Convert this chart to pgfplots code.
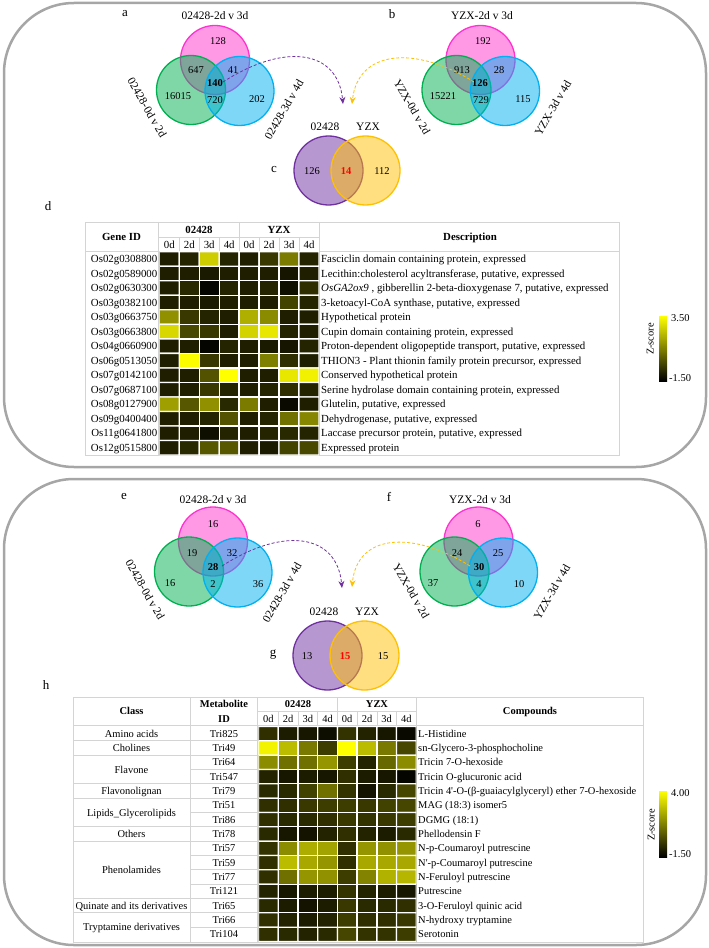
\documentclass[border=0pt]{standalone}
\usepackage{fontspec}
\setmainfont{Liberation Serif}
\usepackage{pgfplots}
\pgfplotsset{compat=1.18}
\usetikzlibrary{arrows.meta}

\definecolor{vpink}{RGB}{255,51,204}
\definecolor{vgreen}{RGB}{0,176,80}
\definecolor{vblue}{RGB}{0,176,240}
\definecolor{vpurple}{RGB}{112,48,160}
\definecolor{vyellow}{RGB}{255,192,0}
\definecolor{boxgray}{RGB}{166,166,166}
\definecolor{tline}{RGB}{212,212,212}
\definecolor{cbgreen}{RGB}{0,170,0}

\pgfplotsset{
  colormap={zmap}{rgb255=(0,0,0) rgb255=(255,255,0)},
  heat/.style={scale only axis, hide axis, anchor=north west,
    xmin=-0.5, xmax=7.5, y dir=reverse, enlargelimits=false,
    colormap name=zmap},
}
\tikzset{
  t/.style={inner sep=0pt, text height=7bp, text depth=0bp, font=\fontsize{10.5}{12}\selectfont},
  tb/.style={t, font=\fontsize{10.5}{12}\selectfont\bfseries},
  d/.style={inner sep=0pt, text height=7bp, text depth=0bp, font=\fontsize{10.9}{12}\selectfont},
  db/.style={d, font=\fontsize{10.9}{12}\selectfont\bfseries},
  ttl/.style={inner sep=0pt, text height=7.5bp, text depth=0bp, font=\fontsize{11.5}{13}\selectfont},
  lab/.style={inner sep=0pt, font=\fontsize{13}{15}\selectfont},
  arr/.style={densely dashed, line width=0.8bp, -{Stealth[length=7bp,width=6bp]}},
}

% three-set venn, #1,#2 = centre of the top (pink) circle
\newcommand\vennthree[2]{%
  \fill[vpink,opacity=0.5] (#1,#2) circle[radius=34.5bp];
  \draw[vpink,line width=1.3bp] (#1,#2) circle[radius=34.5bp];
  \fill[vgreen,opacity=0.5] ({#1-24},{#2+30}) circle[radius=34.5bp];
  \draw[vgreen,line width=1.3bp] ({#1-24},{#2+30}) circle[radius=34.5bp];
  \fill[vblue,opacity=0.5] ({#1+24.5},{#2+31}) circle[radius=34.5bp];
  \draw[vblue,line width=1.3bp] ({#1+24.5},{#2+31}) circle[radius=34.5bp];
}
% two-set venn, #1,#2 = centre of the left (purple) circle
\newcommand\venntwo[2]{%
  \fill[vpurple,opacity=0.5] (#1,#2) circle[radius=34.5bp];
  \draw[vpurple,line width=1.3bp] (#1,#2) circle[radius=34.5bp];
  \fill[vyellow,opacity=0.5] ({#1+37},#2) circle[radius=34.5bp];
  \draw[vyellow,line width=1.3bp] ({#1+37},#2) circle[radius=34.5bp];
}

\begin{document}
\begin{tikzpicture}
\begin{axis}[name=main, at={(0,0)}, anchor=south west,
  width=709bp, height=948bp, scale only axis,
  xmin=0, xmax=709, ymin=0, ymax=948, y dir=reverse,
  enlargelimits=false, hide axis, clip=false]

% panel frames
\draw[boxgray, line width=2.5bp, rounded corners=70bp] (4,3) rectangle (706,467);
\draw[boxgray, line width=2.5bp, rounded corners=70bp] (4,479) rectangle (706,945);

% ---------- a, b, c ----------
\vennthree{215}{60}
\vennthree{480.5}{60}
\venntwo{328.5}{170.5}

\node[lab] at (125,14) {a};
\node[lab] at (392,14) {b};
\node[lab] at (274,170) {c};
\node[ttl] at (215,16) {02428-2d v 3d};
\node[ttl] at (482,16) {YZX-2d v 3d};
\node[ttl, rotate=-60] at (147,108) {02428-0d v 2d};
\node[ttl, rotate=60] at (284,110) {02428-3d v 4d};
\node[ttl, rotate=-60] at (412,107) {YZX-0d v 2d};
\node[ttl, rotate=60] at (553,108) {YZX-3d v 4d};

\node[t] at (218,41) {128};
\node[t] at (196,70) {647};
\node[t] at (233,70) {41};
\node[tb] at (215,83) {140};
\node[t] at (178,96) {16015};
\node[t] at (215,100) {720};
\node[t] at (257,99) {202};

\node[t] at (483,41) {192};
\node[t] at (462,70) {913};
\node[t] at (499,70) {28};
\node[tb] at (480,83) {126};
\node[t] at (443,96) {15221};
\node[t] at (481,100) {729};
\node[t] at (523,99) {115};

\node[ttl] at (325,127) {02428};
\node[ttl] at (368,127) {YZX};
\node[t] at (312,171) {126};
\node[tb, text=red] at (346,171) {14};
\node[t] at (382,171) {112};

\draw[arr, vpurple] (223,82) .. controls (285,42) and (338,50) .. (343,104);
\draw[arr, vyellow] (474,82) .. controls (415,45) and (358,50) .. (352,104);

% ---------- d : table ----------
\node[lab] at (48,206) {d};
\draw[tline, line width=0.8bp] (85,222) rectangle (619,455.5);
\draw[tline, line width=0.8bp] (85,251.5) -- (619,251.5);
\draw[tline, line width=0.8bp] (158.8,222) -- (158.8,455.5);
\draw[tline, line width=0.8bp] (319.3,222) -- (319.3,455.5);
\draw[tline, line width=0.8bp] (158.8,237) -- (319.3,237);
\draw[tline, line width=0.8bp] (239.1,222) -- (239.1,251.5);
\draw[tline, line width=0.6bp] (179.3,237) -- (179.3,251.5) (199.2,237) -- (199.2,251.5)
  (219.2,237) -- (219.2,251.5) (259.1,237) -- (259.1,251.5)
  (279.1,237) -- (279.1,251.5) (299.0,237) -- (299.0,251.5);

\node[db] at (121.5,237) {Gene ID};
\node[db] at (199,229.5) {02428};
\node[db] at (279,229.5) {YZX};
\node[db] at (470,237) {Description};
\node[d] at (169.3,244.5) {0d};
\node[d] at (189.3,244.5) {2d};
\node[d] at (209.2,244.5) {3d};
\node[d] at (229.2,244.5) {4d};
\node[d] at (249.1,244.5) {0d};
\node[d] at (269.1,244.5) {2d};
\node[d] at (289.0,244.5) {3d};
\node[d] at (309.0,244.5) {4d};

\node[d, anchor=east] at (157.5,259.0) {Os02g0308800};
\node[d, anchor=east] at (157.5,273.5) {Os02g0589000};
\node[d, anchor=east] at (157.5,288.0) {Os02g0630300};
\node[d, anchor=east] at (157.5,302.6) {Os03g0382100};
\node[d, anchor=east] at (157.5,317.1) {Os03g0663750};
\node[d, anchor=east] at (157.5,331.6) {Os03g0663800};
\node[d, anchor=east] at (157.5,346.1) {Os04g0660900};
\node[d, anchor=east] at (157.5,360.7) {Os06g0513050};
\node[d, anchor=east] at (157.5,375.2) {Os07g0142100};
\node[d, anchor=east] at (157.5,389.7) {Os07g0687100};
\node[d, anchor=east] at (157.5,404.3) {Os08g0127900};
\node[d, anchor=east] at (157.5,418.8) {Os09g0400400};
\node[d, anchor=east] at (157.5,433.3) {Os11g0641800};
\node[d, anchor=east] at (157.5,447.9) {Os12g0515800};

\node[d, anchor=west] at (321,259.0) {Fasciclin domain containing protein, expressed};
\node[d, anchor=west] at (321,273.5) {Lecithin:cholesterol acyltransferase, putative, expressed};
\node[d, anchor=west] at (321,288.0) {\textit{OsGA2ox9} , gibberellin 2-beta-dioxygenase 7, putative, expressed};
\node[d, anchor=west] at (321,302.6) {3-ketoacyl-CoA synthase, putative, expressed};
\node[d, anchor=west] at (321,317.1) {Hypothetical protein};
\node[d, anchor=west] at (321,331.6) {Cupin domain containing protein, expressed};
\node[d, anchor=west] at (321,346.1) {Proton-dependent oligopeptide transport, putative, expressed};
\node[d, anchor=west] at (321,360.7) {THION3 - Plant thionin family protein precursor, expressed};
\node[d, anchor=west] at (321,375.2) {Conserved hypothetical protein};
\node[d, anchor=west] at (321,389.7) {Serine hydrolase domain containing protein, expressed};
\node[d, anchor=west] at (321,404.3) {Glutelin, putative, expressed};
\node[d, anchor=west] at (321,418.8) {Dehydrogenase, putative, expressed};
\node[d, anchor=west] at (321,433.3) {Laccase precursor protein, putative, expressed};
\node[d, anchor=west] at (321,447.9) {Expressed protein};

\shade[top color=yellow, middle color=cbgreen, bottom color=black] (659,316) rectangle (667,381);
\node[t, anchor=west] at (671,318) {3.50};
\node[t, anchor=west] at (669,378) {-1.50};
\node[t, rotate=90] at (650,339) {Z-score};

% ---------- e, f, g ----------
\vennthree{213}{541.5}
\vennthree{478.5}{541.5}
\venntwo{327.5}{655.5}

\node[lab] at (124,497) {e};
\node[lab] at (389,497) {f};
\node[lab] at (273,655) {g};
\node[ttl] at (213,500) {02428-2d v 3d};
\node[ttl] at (480,500) {YZX-2d v 3d};
\node[ttl, rotate=-60] at (145,590) {02428-0d v 2d};
\node[ttl, rotate=60] at (282,593) {02428-3d v 4d};
\node[ttl, rotate=-60] at (411,591) {YZX-0d v 2d};
\node[ttl, rotate=60] at (552,592) {YZX-3d v 4d};

\node[t] at (213,524) {16};
\node[t] at (192,553) {19};
\node[t] at (232,553) {32};
\node[tb] at (213,567) {28};
\node[t] at (170,583) {16};
\node[t] at (213,584) {2};
\node[t] at (258,584) {36};

\node[t] at (478,524) {6};
\node[t] at (457,553) {24};
\node[t] at (498,553) {25};
\node[tb] at (479,567) {30};
\node[t] at (433,583) {37};
\node[t] at (479,584) {4};
\node[t] at (519,584) {10};

\node[ttl] at (324,612) {02428};
\node[ttl] at (367,612) {YZX};
\node[t] at (307,656) {13};
\node[tb, text=red] at (345,656) {15};
\node[t] at (383,656) {15};

\draw[arr, vpurple] (222,566) .. controls (284,526) and (337,534) .. (342,588);
\draw[arr, vyellow] (470,566) .. controls (412,530) and (357,534) .. (352,587);

% ---------- h : table ----------
\node[lab] at (46,685) {h};
\draw[tline, line width=0.8bp] (73,697) rectangle (643,942);
\draw[tline, line width=0.8bp] (73,725.5) -- (643,725.5);
\draw[tline, line width=0.8bp] (190,697) -- (190,942);
\draw[tline, line width=0.8bp] (257.8,697) -- (257.8,942);
\draw[tline, line width=0.8bp] (416.3,697) -- (416.3,942);
\draw[tline, line width=0.8bp] (257.8,711.5) -- (416.3,711.5);
\draw[tline, line width=0.8bp] (337.4,697) -- (337.4,725.5);
\draw[tline, line width=0.6bp] (278.2,711.5) -- (278.2,725.5) (297.9,711.5) -- (297.9,725.5)
  (317.7,711.5) -- (317.7,725.5) (357.1,711.5) -- (357.1,725.5)
  (376.8,711.5) -- (376.8,725.5) (396.6,711.5) -- (396.6,725.5);
% row rules in the ID column
\draw[tline, line width=0.8bp]
  (190,740.8) -- (257.8,740.8) (190,755.2) -- (257.8,755.2) (190,769.5) -- (257.8,769.5)
  (190,783.8) -- (257.8,783.8) (190,798.2) -- (257.8,798.2) (190,812.5) -- (257.8,812.5)
  (190,826.8) -- (257.8,826.8) (190,841.1) -- (257.8,841.1) (190,855.5) -- (257.8,855.5)
  (190,869.8) -- (257.8,869.8) (190,884.1) -- (257.8,884.1) (190,898.5) -- (257.8,898.5)
  (190,912.8) -- (257.8,912.8) (190,927.1) -- (257.8,927.1);
% group rules in the class column
\draw[tline, line width=0.8bp]
  (73,740.8) -- (190,740.8) (73,755.2) -- (190,755.2) (73,783.8) -- (190,783.8)
  (73,798.2) -- (190,798.2) (73,826.8) -- (190,826.8) (73,841.1) -- (190,841.1)
  (73,898.5) -- (190,898.5) (73,912.8) -- (190,912.8);

\node[tb] at (131.5,711) {Class};
\node[tb] at (224,704) {Metabolite};
\node[tb] at (224,718.5) {ID};
\node[tb] at (298,704) {02428};
\node[tb] at (377,704) {YZX};
\node[tb] at (530,711) {Compounds};
\node[t] at (268.4,718.5) {0d};
\node[t] at (288.1,718.5) {2d};
\node[t] at (307.8,718.5) {3d};
\node[t] at (327.5,718.5) {4d};
\node[t] at (347.2,718.5) {0d};
\node[t] at (367.0,718.5) {2d};
\node[t] at (386.7,718.5) {3d};
\node[t] at (406.4,718.5) {4d};

\node[t] at (131.5,733.7) {Amino acids};
\node[t] at (131.5,748.0) {Cholines};
\node[t] at (131.5,769.5) {Flavone};
\node[t] at (131.5,791.0) {Flavonolignan};
\node[t] at (131.5,812.5) {Lipids\_Glycerolipids};
\node[t] at (131.5,834.0) {Others};
\node[t] at (131.5,869.8) {Phenolamides};
\node[t] at (131.5,905.7) {Quinate and its derivatives};
\node[t] at (131.5,927.2) {Tryptamine derivatives};

\node[t] at (224,733.7) {Tri825};
\node[t] at (224,748.0) {Tri49};
\node[t] at (224,762.3) {Tri64};
\node[t] at (224,776.7) {Tri547};
\node[t] at (224,791.0) {Tri79};
\node[t] at (224,805.3) {Tri51};
\node[t] at (224,819.7) {Tri86};
\node[t] at (224,834.0) {Tri78};
\node[t] at (224,848.3) {Tri57};
\node[t] at (224,862.7) {Tri59};
\node[t] at (224,877.0) {Tri77};
\node[t] at (224,891.3) {Tri121};
\node[t] at (224,905.7) {Tri65};
\node[t] at (224,920.0) {Tri66};
\node[t] at (224,934.3) {Tri104};

\node[t, anchor=west] at (418,733.7) {L-Histidine};
\node[t, anchor=west] at (418,748.0) {sn-Glycero-3-phosphocholine};
\node[t, anchor=west] at (418,762.3) {Tricin 7-O-hexoside};
\node[t, anchor=west] at (418,776.7) {Tricin O-glucuronic acid};
\node[t, anchor=west] at (418,791.0) {Tricin 4\textquotesingle-O-(β-guaiacylglyceryl) ether 7-O-hexoside};
\node[t, anchor=west] at (418,805.3) {MAG (18:3) isomer5};
\node[t, anchor=west] at (418,819.7) {DGMG (18:1)};
\node[t, anchor=west] at (418,834.0) {Phellodensin F};
\node[t, anchor=west] at (418,848.3) {N-p-Coumaroyl putrescine};
\node[t, anchor=west] at (418,862.7) {N\textquotesingle-p-Coumaroyl putrescine};
\node[t, anchor=west] at (418,877.0) {N-Feruloyl putrescine};
\node[t, anchor=west] at (418,891.3) {Putrescine};
\node[t, anchor=west] at (418,905.7) {3-O-Feruloyl quinic acid};
\node[t, anchor=west] at (418,920.0) {N-hydroxy tryptamine};
\node[t, anchor=west] at (418,934.3) {Serotonin};

\shade[top color=yellow, middle color=cbgreen, bottom color=black] (659,791) rectangle (667,857);
\node[t, anchor=west] at (671,793) {4.00};
\node[t, anchor=west] at (669,854) {-1.50};
\node[t, rotate=90] at (651,825) {Z-score};
\end{axis}

% heatmap d: transcripts, z-score
\begin{axis}[heat, at={(159.3bp,696.3bp)}, width=159.7bp, height=203.4bp,
  ymin=-0.5, ymax=13.5, point meta min=-1.5, point meta max=3.5]
\addplot[matrix plot*, draw=white, line width=1.3bp, mesh/cols=8, point meta=explicit]
  table[meta=z, row sep=\\]{
x y z\\
0 0 -0.9\\ 1 0 -0.8\\ 2 0 2.5\\ 3 0 -0.8\\ 4 0 -0.9\\ 5 0 -0.4\\ 6 0 0.9\\ 7 0 -0.8\\
0 1 -0.9\\ 1 1 -0.9\\ 2 1 -1.0\\ 3 1 -0.9\\ 4 1 -0.9\\ 5 1 -0.9\\ 6 1 -1.1\\ 7 1 -0.9\\
0 2 -0.9\\ 1 2 -0.7\\ 2 2 -1.4\\ 3 2 -0.8\\ 4 2 -0.9\\ 5 2 -0.8\\ 6 2 -1.2\\ 7 2 -0.6\\
0 3 -0.9\\ 1 3 -0.9\\ 2 3 -1.0\\ 3 3 -0.9\\ 4 3 -0.9\\ 5 3 -0.9\\ 6 3 -0.2\\ 7 3 -0.8\\
0 4 1.3\\ 1 4 -0.4\\ 2 4 -0.8\\ 3 4 -0.9\\ 4 4 1.9\\ 5 4 1.2\\ 6 4 -0.9\\ 7 4 -0.9\\
0 5 2.7\\ 1 5 -0.1\\ 2 5 -0.4\\ 3 5 -0.9\\ 4 5 2.6\\ 5 5 3.0\\ 6 5 -0.8\\ 7 5 -0.9\\
0 6 -0.9\\ 1 6 -0.9\\ 2 6 -1.4\\ 3 6 -0.8\\ 4 6 -0.9\\ 5 6 -1.0\\ 6 6 -1.1\\ 7 6 -0.8\\
0 7 -0.9\\ 1 7 3.4\\ 2 7 -0.4\\ 3 7 -0.9\\ 4 7 -0.9\\ 5 7 1.0\\ 6 7 -0.6\\ 7 7 -0.9\\
0 8 -0.9\\ 1 8 -0.9\\ 2 8 0.1\\ 3 8 3.5\\ 4 8 -0.9\\ 5 8 -0.9\\ 6 8 3.0\\ 7 8 3.2\\
0 9 -0.9\\ 1 9 -0.9\\ 2 9 -0.4\\ 3 9 -0.8\\ 4 9 -0.9\\ 5 9 -0.8\\ 6 9 -0.6\\ 7 9 -0.8\\
0 10 1.6\\ 1 10 0.2\\ 2 10 1.3\\ 3 10 -0.7\\ 4 10 0.9\\ 5 10 -0.9\\ 6 10 -1.3\\ 7 10 -0.9\\
0 11 -0.9\\ 1 11 -0.9\\ 2 11 -0.8\\ 3 11 0.1\\ 4 11 -0.9\\ 5 11 -0.8\\ 6 11 0.7\\ 7 11 1.1\\
0 12 -0.9\\ 1 12 -0.9\\ 2 12 -1.2\\ 3 12 -0.8\\ 4 12 -0.9\\ 5 12 -0.8\\ 6 12 -0.7\\ 7 12 -0.8\\
0 13 -0.9\\ 1 13 -0.7\\ 2 13 0.2\\ 3 13 0.2\\ 4 13 -0.9\\ 5 13 -1.0\\ 6 13 -0.2\\ 7 13 -0.1\\
};
\end{axis}

% heatmap h: metabolites, z-score
\begin{axis}[heat, at={(258.5bp,221.5bp)}, width=157.8bp, height=215bp,
  ymin=-0.5, ymax=14.5, point meta min=-1.5, point meta max=4]
\addplot[matrix plot*, draw=white, line width=1.3bp, mesh/cols=8, point meta=explicit]
  table[meta=z, row sep=\\]{
x y z\\
0 0 -0.5\\ 1 0 -0.9\\ 2 0 -1.0\\ 3 0 -1.2\\ 4 0 -0.4\\ 5 0 -0.75\\ 6 0 -1.0\\ 7 0 -1.3\\
0 1 3.7\\ 1 1 2.5\\ 2 1 1.1\\ 3 1 -0.2\\ 4 1 4.0\\ 5 1 2.5\\ 6 1 1.1\\ 7 1 0.0\\
0 2 1.5\\ 1 2 0.9\\ 2 2 0.9\\ 3 2 1.7\\ 4 2 -0.2\\ 5 2 -0.75\\ 6 2 0.7\\ 7 2 1.5\\
0 3 -0.75\\ 1 3 -1.0\\ 2 3 -0.9\\ 3 3 -1.0\\ 4 3 -0.5\\ 5 3 -0.9\\ 6 3 -1.0\\ 7 3 -1.4\\
0 4 -0.6\\ 1 4 -0.6\\ 2 4 -0.1\\ 3 4 0.9\\ 4 4 -0.4\\ 5 4 -1.1\\ 6 4 -0.6\\ 7 4 0.0\\
0 5 -0.5\\ 1 5 -0.5\\ 2 5 -0.3\\ 3 5 -0.2\\ 4 5 -0.2\\ 5 5 -0.3\\ 6 5 -0.1\\ 7 5 0.0\\
0 6 -0.5\\ 1 6 -0.6\\ 2 6 -0.6\\ 3 6 -0.5\\ 4 6 -0.3\\ 5 6 -0.4\\ 6 6 -0.3\\ 7 6 -0.2\\
0 7 -0.6\\ 1 7 -1.0\\ 2 7 -1.1\\ 3 7 -0.75\\ 4 7 -0.5\\ 5 7 -0.75\\ 6 7 -0.9\\ 7 7 -0.6\\
0 8 -0.4\\ 1 8 1.5\\ 2 8 2.2\\ 3 8 2.0\\ 4 8 -0.5\\ 5 8 1.7\\ 6 8 1.6\\ 7 8 1.7\\
0 9 -0.5\\ 1 9 2.5\\ 2 9 2.1\\ 3 9 1.7\\ 4 9 -0.5\\ 5 9 2.1\\ 6 9 2.1\\ 7 9 2.1\\
0 10 -0.5\\ 1 10 0.9\\ 2 10 1.7\\ 3 10 1.6\\ 4 10 -0.2\\ 5 10 1.3\\ 6 10 2.3\\ 7 10 2.4\\
0 11 -0.75\\ 1 11 -1.0\\ 2 11 -0.9\\ 3 11 -0.9\\ 4 11 -0.4\\ 5 11 -0.75\\ 6 11 -0.9\\ 7 11 -1.0\\
0 12 -0.6\\ 1 12 -0.9\\ 2 12 -1.1\\ 3 12 -0.9\\ 4 12 -0.3\\ 5 12 -0.6\\ 6 12 -0.6\\ 7 12 -0.5\\
0 13 -0.5\\ 1 13 -0.75\\ 2 13 -0.9\\ 3 13 -0.75\\ 4 13 -0.2\\ 5 13 -0.5\\ 6 13 -0.5\\ 7 13 -0.3\\
0 14 -0.5\\ 1 14 -0.6\\ 2 14 -0.75\\ 3 14 -0.6\\ 4 14 0.0\\ 5 14 -0.4\\ 6 14 -0.4\\ 7 14 -0.2\\
};
\end{axis}

\pgfresetboundingbox
\path[use as bounding box] (0,0) rectangle (709bp,948bp);
\end{tikzpicture}
\end{document}
